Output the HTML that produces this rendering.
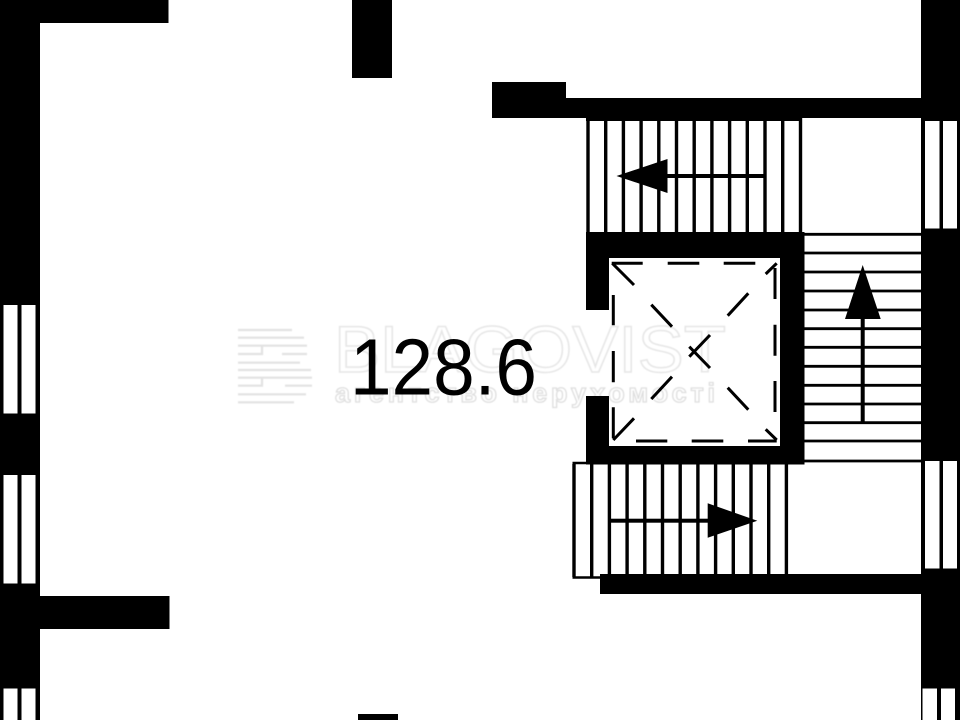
<!DOCTYPE html>
<html>
<head>
<meta charset="utf-8">
<style>
html,body{margin:0;padding:0;background:#fff;width:960px;height:720px;overflow:hidden}
svg{display:block}
text{font-family:"Liberation Sans","DejaVu Sans",sans-serif}
</style>
</head>
<body>
<svg width="960" height="720" viewBox="0 0 960 720" xmlns="http://www.w3.org/2000/svg">
<defs><filter id="s" x="-5%" y="-5%" width="110%" height="110%"><feGaussianBlur stdDeviation="0.5"/></filter></defs>
<rect width="960" height="720" fill="#fff"/>

<!-- watermark -->
<g filter="url(#s)">
<g fill="none" stroke="#e2e2e2" stroke-width="2.200">
<path d="M238 330H292M238 337.700H304M238 345.700H262V354H238M282 345.700H307M282 354H307M262 345.700H282M238 362.700H300M238 370H311M238 377.700H262V385.700H238M285 377.700H312M285 385.700H312M262 377.700H285M238 394.300H306M238 402.300H294"/>
</g>
<text x="334" y="372" font-size="66" fill="#fff" stroke="#e6e6e6" stroke-width="1.500" textLength="392" lengthAdjust="spacingAndGlyphs">BLAGOVIST</text>
<text x="335" y="402" font-size="27" fill="#fff" stroke="#dedede" stroke-width="1.300" textLength="380" lengthAdjust="spacing" font-weight="bold">агентство нерухомості</text>
</g>

<!-- walls -->
<g fill="#000">
<rect x="0" y="0" width="168.500" height="23"/>
<rect x="0" y="0" width="40" height="720"/>
<rect x="352" y="0" width="40" height="78"/>
<rect x="0" y="596" width="169.500" height="33"/>
<rect x="492" y="82" width="74" height="36"/>
<rect x="492" y="98" width="430" height="20"/>
<rect x="921" y="0" width="39" height="720"/>
<rect x="600" y="574" width="322" height="20"/>
<rect x="358" y="714" width="40" height="6"/>
<!-- core -->
<path fill-rule="evenodd" d="M586 232H804.500V464.500H586V396H609V446H780V258H609V310H586Z"/>
</g>

<!-- windows -->
<g fill="#fff">
<rect x="3.500" y="305" width="14" height="108.500"/><rect x="21.500" y="305" width="14" height="108.500"/>
<rect x="3.500" y="475" width="14" height="108.500"/><rect x="21.500" y="475" width="14" height="108.500"/>
<rect x="3.500" y="688.500" width="14" height="32"/><rect x="21.500" y="688.500" width="14" height="32"/>
<rect x="925" y="121" width="14.500" height="107.500"/><rect x="943" y="121" width="14" height="107.500"/>
<rect x="925" y="461" width="14.500" height="107.500"/><rect x="943" y="461" width="14" height="107.500"/>
<rect x="922.500" y="688.500" width="14.500" height="32"/><rect x="941" y="688.500" width="14" height="32"/>
</g>

<!-- upper stairs -->
<g stroke="#000" stroke-width="3.400" fill="none">
<path d="M588 118V232M605.700 118V232M623.400 118V232M641.100 118V232M658.800 118V232M676.500 118V232M694.200 118V232M711.900 118V232M729.600 118V232M747.300 118V232M765 118V232M782.700 118V232M800.500 118V232"/>
</g>
<rect x="586" y="118" width="216" height="3" fill="#000"/>
<path d="M616.500 176L667.500 159V193Z" fill="#000"/>
<rect x="660" y="174" width="104.500" height="4" fill="#000"/>

<!-- right stairs -->
<g stroke="#000" stroke-width="2.800" fill="none">
<path d="M804 234.300H921M804 253H921M804 272H921M804 291H921M804 310H921M804 328.700H921M804 347.300H921M804 366.300H921M804 385.300H921M804 404H921M804 422.700H921M804 441H921M804 461H921"/>
</g>
<path d="M862.700 265L880.700 319H845Z" fill="#000"/>
<rect x="860.700" y="315" width="4" height="108" fill="#000"/>

<!-- lower stairs -->
<g stroke="#000" stroke-width="3.400" fill="none">
<path d="M574 464V577M591.700 464V577M609.400 464V575M627.100 464V575M644.800 464V575M662.500 464V575M680.200 464V575M697.900 464V575M715.600 464V575M733.300 464V575M751 464V575M768.700 464V575M786.400 464V575"/>
</g>
<path d="M572.500 463H590M572.500 577.500H601" stroke="#000" stroke-width="2.500" fill="none"/>
<rect x="610" y="518.700" width="100" height="4" fill="#000"/>
<path d="M707.700 503.300L757.300 520.700L707.700 537.700Z" fill="#000"/>

<!-- lift dashed box -->
<g stroke="#000" stroke-width="3" fill="none">
<path d="M611.700 263.300H642.700M667.700 263.300H699.300M723.700 263.300H755.300"/>
<path d="M775 268V299M775 324.700V355.700M775 381V412"/>
<path d="M636 441H667.300M691.700 441H723.300M748 441H776.700"/>
<path d="M613.300 295V325.300M613.300 351V382.300M613.300 407.300V438.300"/>
<path d="M612.300 263.300L634 285M651.300 304.700L672 326.700M689.300 346.700L710 368M727.700 387.700L748.300 409.700M765.700 429.300L776.700 440"/>
<path d="M765.700 274L776.700 263.300M748.300 293.300L727.700 315.700M710 335L689.300 356.700M672 376.700L651.300 399M634 418.300L613.300 440"/>
</g>

<!-- area label -->
<text x="350" y="394.500" font-size="80" fill="#000" textLength="187" lengthAdjust="spacingAndGlyphs">128.6</text>
</svg>
</body>
</html>
